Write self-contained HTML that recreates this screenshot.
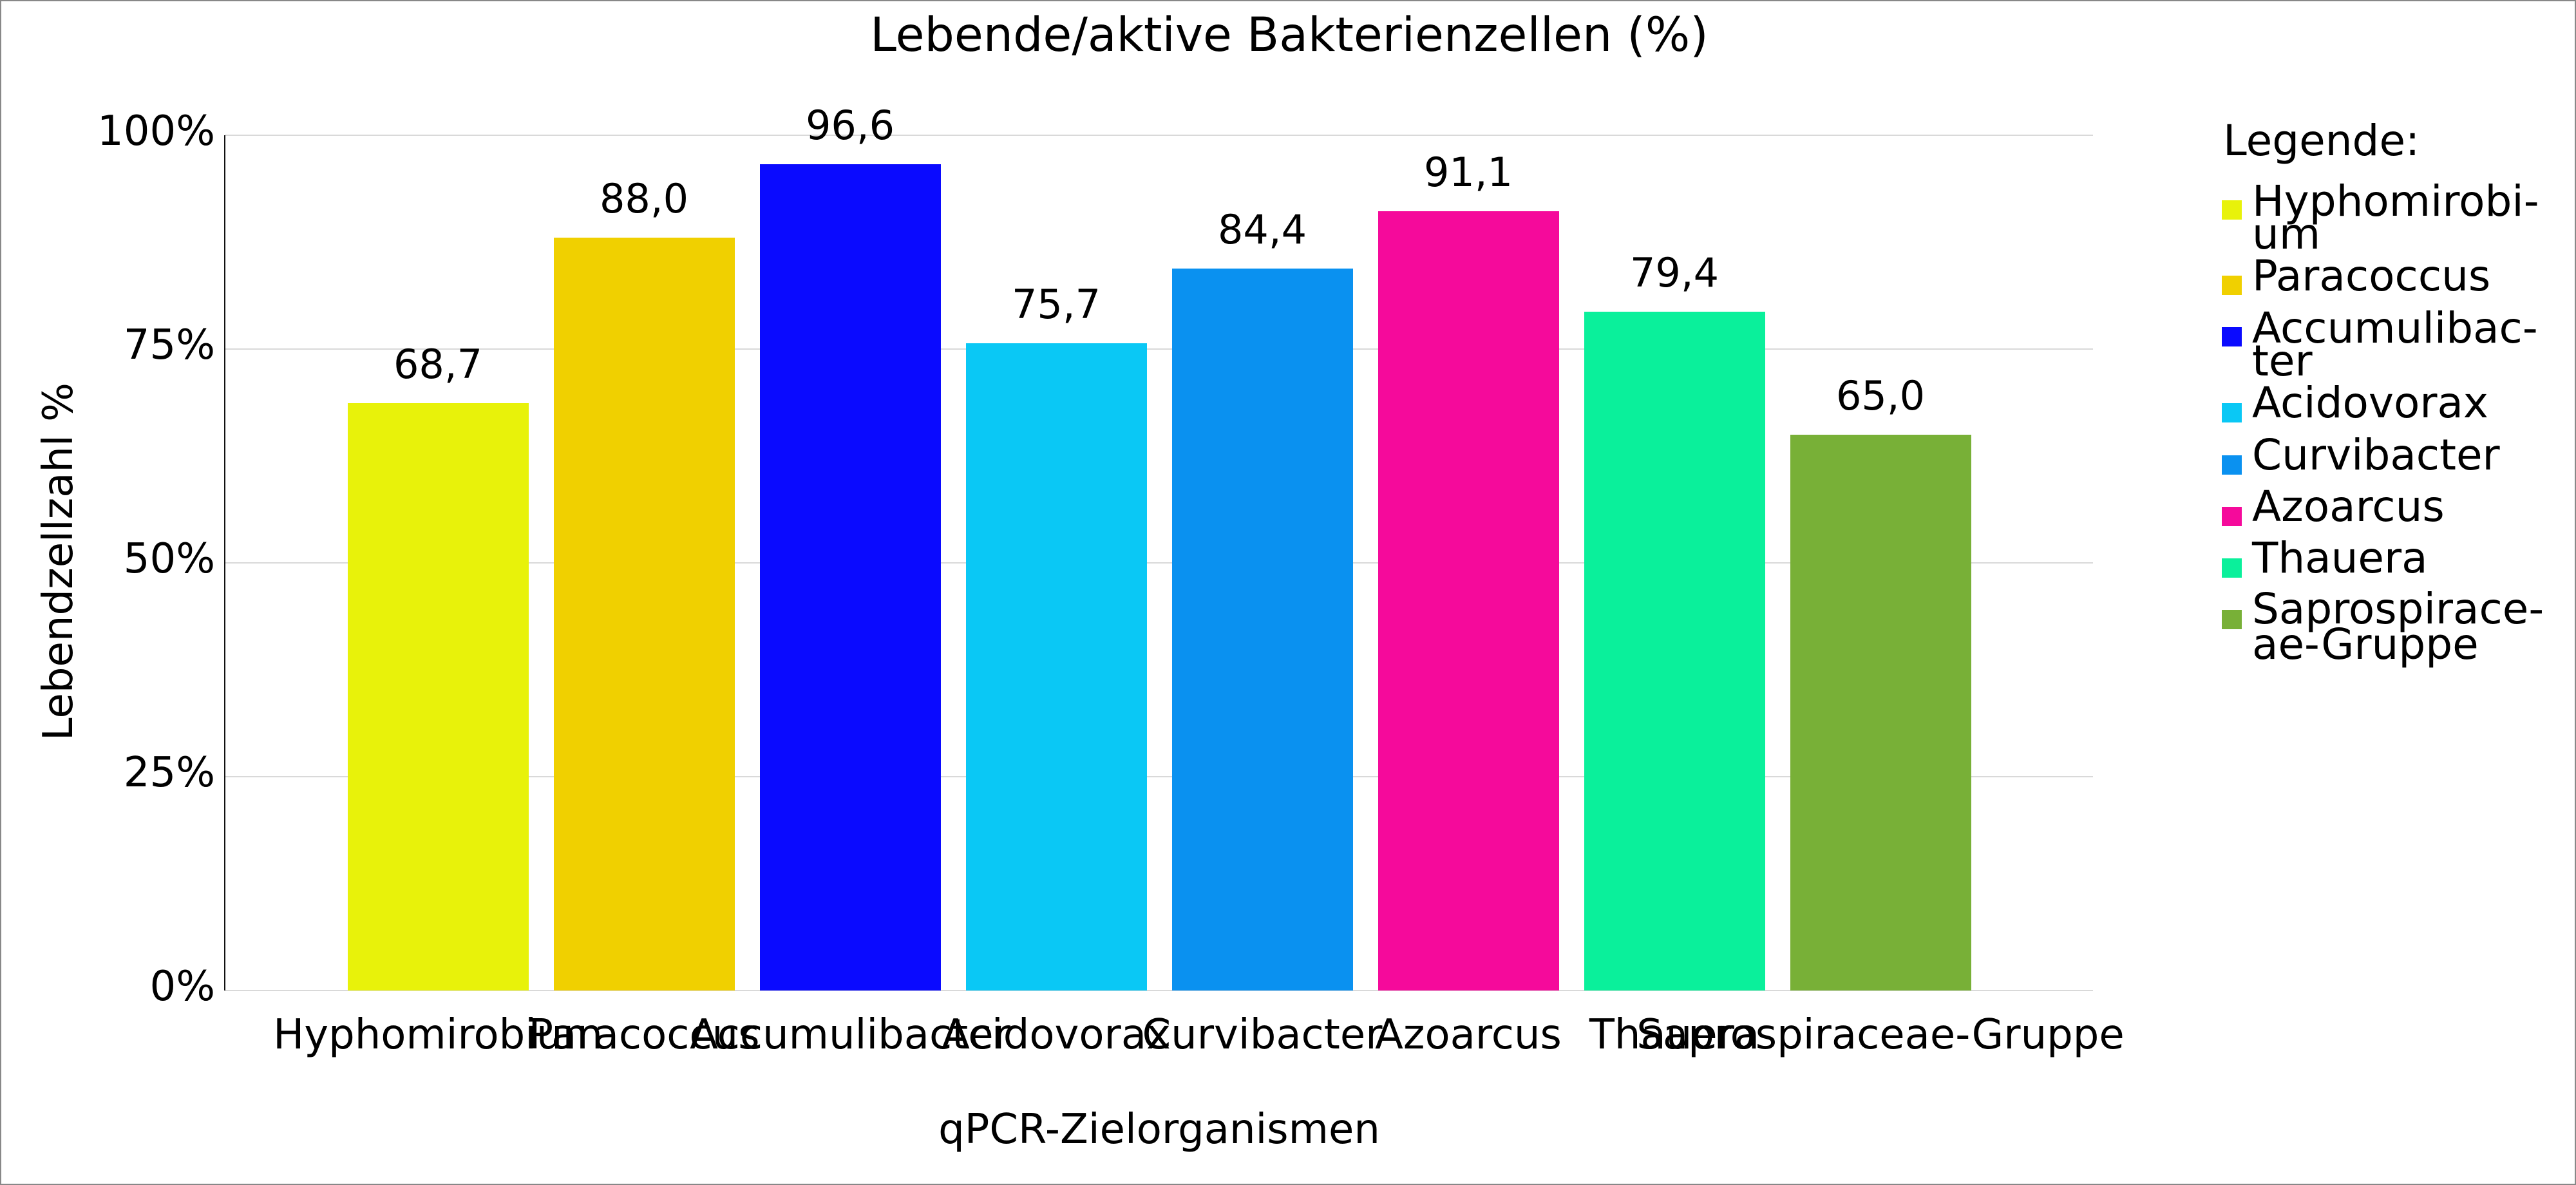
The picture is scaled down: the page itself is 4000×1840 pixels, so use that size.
<!DOCTYPE html>
<html><head><meta charset="utf-8"><style>
html,body{margin:0;padding:0;background:#fff}
svg{display:block}
text{font-family:"DejaVu Sans","Liberation Sans",sans-serif;fill:#000}
</style></head><body>
<svg width="4000" height="1840" viewBox="0 0 4000 1840" xmlns="http://www.w3.org/2000/svg">
<rect x="1" y="1" width="3998" height="1838" fill="#fff" stroke="#888" stroke-width="2"/>
<text x="2002" y="79" font-size="73" text-anchor="middle">Lebende/aktive Bakterienzellen (%)</text>
<g stroke="#d9d9d9" stroke-width="2">
<line x1="349" y1="210" x2="3250" y2="210"/>
<line x1="349" y1="542" x2="3250" y2="542"/>
<line x1="349" y1="874" x2="3250" y2="874"/>
<line x1="349" y1="1206" x2="3250" y2="1206"/>
<line x1="349" y1="1538" x2="3250" y2="1538"/>
</g>
<line x1="349" y1="210" x2="349" y2="1538" stroke="#111" stroke-width="2"/>
<g font-size="64" text-anchor="end">
<text x="334" y="225">100%</text>
<text x="334" y="557">75%</text>
<text x="334" y="889">50%</text>
<text x="334" y="1221">25%</text>
<text x="334" y="1553">0%</text>
</g>
<text transform="translate(112,872) rotate(-90)" font-size="64" text-anchor="middle">Lebendzellzahl %</text>
<g>
<rect x="540" y="626" width="281" height="912" fill="#e8f20a"/>
<rect x="860" y="369" width="281" height="1169" fill="#f0d000"/>
<rect x="1180" y="255" width="281" height="1283" fill="#0a0aff"/>
<rect x="1500" y="533" width="281" height="1005" fill="#0ac8f5"/>
<rect x="1820" y="417" width="281" height="1121" fill="#0a91f0"/>
<rect x="2140" y="328" width="281" height="1210" fill="#f50a9b"/>
<rect x="2460" y="484" width="281" height="1054" fill="#0af09b"/>
<rect x="2780" y="675" width="281" height="863" fill="#78b037"/>
</g>
<g font-size="62" text-anchor="middle">
<text x="680" y="587">68,7</text>
<text x="1000" y="330">88,0</text>
<text x="1320" y="216">96,6</text>
<text x="1640" y="494">75,7</text>
<text x="1960" y="378">84,4</text>
<text x="2280" y="289">91,1</text>
<text x="2600" y="445">79,4</text>
<text x="2920" y="636">65,0</text>
</g>
<g font-size="64" text-anchor="middle">
<text x="680" y="1628">Hyphomirobium</text>
<text x="1000" y="1628">Paracoccus</text>
<text x="1320" y="1628">Accumulibacter</text>
<text x="1640" y="1628">Acidovorax</text>
<text x="1960" y="1628">Curvibacter</text>
<text x="2280" y="1628">Azoarcus</text>
<text x="2600" y="1628">Thauera</text>
<text x="2920" y="1628">Saprospiraceae-Gruppe</text>
</g>
<text x="1800" y="1775" font-size="64" text-anchor="middle">qPCR-Zielorganismen</text>
<g font-size="66">
<text x="3452" y="241">Legende:</text>
<rect x="3450" y="311" width="31" height="30" fill="#e8f20a"/>
<text x="3497" y="335">Hyphomirobi-</text><text x="3497" y="386">um</text>
<rect x="3450" y="428" width="31" height="30" fill="#f0d000"/>
<text x="3497" y="451">Paracoccus</text>
<rect x="3450" y="508" width="31" height="30" fill="#0a0aff"/>
<text x="3497" y="532">Accumulibac-</text><text x="3497" y="583">ter</text>
<rect x="3450" y="626" width="31" height="30" fill="#0ac8f5"/>
<text x="3497" y="648">Acidovorax</text>
<rect x="3450" y="707" width="31" height="30" fill="#0a91f0"/>
<text x="3497" y="729">Curvibacter</text>
<rect x="3450" y="787" width="31" height="30" fill="#f50a9b"/>
<text x="3497" y="809">Azoarcus</text>
<rect x="3450" y="867" width="31" height="30" fill="#0af09b"/>
<text x="3497" y="889">Thauera</text>
<rect x="3450" y="947" width="31" height="30" fill="#78b037"/>
<text x="3497" y="968">Saprospirace-</text><text x="3497" y="1023">ae-Gruppe</text>
</g>
</svg>
</body></html>
